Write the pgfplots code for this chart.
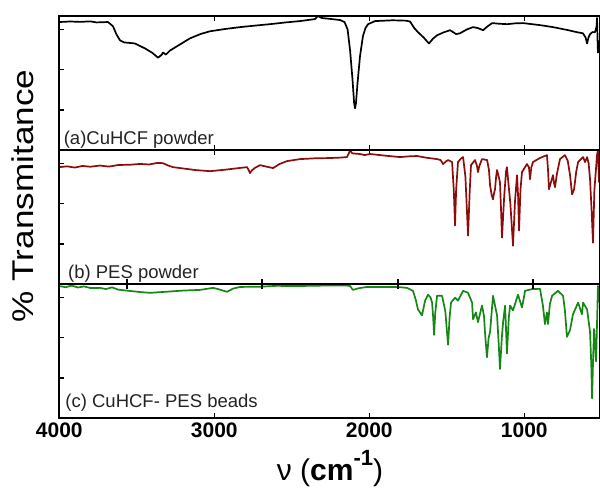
\documentclass[border=0pt]{standalone}
\usepackage{pgfplots}
\pgfplotsset{compat=1.18}
\usepackage{fontspec}
\setmainfont{Liberation Sans}
\definecolor{cred}{RGB}{140,12,12}
\definecolor{cgreen}{RGB}{20,135,20}
\definecolor{ctext}{RGB}{35,35,35}
\pgfplotsset{
  panel/.style={
    scale only axis, width=540.2pt, height=134pt,
    x dir=reverse, xmin=515, xmax=4000, ymin=0, ymax=100,
    xtick={4000,3000,2000,1000}, xticklabels={},
    ytick={30,60,90}, yticklabels={}, ytick pos=left,
    tick align=inside, major tick length=5pt,
    axis line style={line width=1.8pt},
    every tick/.style={black, line width=1.6pt},
    clip=true,
  },
  spec/.style={line width=1.7pt, line join=round},
}
\begin{document}
\begin{tikzpicture}
\useasboundingbox (0,0) rectangle (600pt,490pt);
% panel (a)
\begin{axis}[panel, at={(59.3pt,474pt)}, anchor=north west, xtick pos=both]
\addplot[spec, black] coordinates {
(4000,95.5)(3930,95.9)(3866,95.6)(3800,96.0)(3760,95.2)(3686,95.5)(3654,92.4)(3630,86)(3608,81.8)(3582,80.3)(3512,79.5)(3447,75.8)(3400,72.5)(3363,68.9)(3340,71)(3331,72.7)(3312,71.2)(3286,74.2)(3221,78.8)(3157,83.3)(3090,86.5)(3028,88.6)(2930,90.3)(2834,91.7)(2740,92.8)(2641,93.9)(2540,95.2)(2447,96.2)(2350,97.7)(2332,100)(2306,98.5)(2250,97.8)(2189,97)(2160,95.5)(2140,90)(2124,74.2)(2108,52)(2098,35)(2092,31.1)(2086,35)(2076,50)(2060,70)(2041,85)(2025,91)(2008,93.9)(1963,96.2)(1850,96.8)(1760,96.5)(1737,95.8)(1710,91)(1686,87.9)(1650,84)(1615,79.5)(1590,83)(1563,85.6)(1520,87.8)(1479,89.4)(1440,86.5)(1415,87.1)(1370,90)(1331,91.7)(1300,91)(1266,89.4)(1240,92)(1208,94.7)(1160,94.2)(1111,93.9)(1060,94.5)(1008,94.7)(900,93.2)(815,91.7)(720,89.5)(660,87.9)(622,87.1)(605,84)(595,79.5)(586,84)(576,86.4)(560,88)(544,87.9)(534,92)(531,98.5)(527,80)(525,72.7)(520,78)(518,81.8)
};
\node[anchor=base west, font=\fontsize{18.5}{20}\selectfont, text=ctext, inner sep=0pt] at (rel axis cs:0.008,0.04) {(a)CuHCF powder};
\end{axis}
% panel (b)
\begin{axis}[panel, at={(59.3pt,340pt)}, anchor=north west, xtick pos=right]
\addplot[spec, cred] coordinates {
(4000,87.2)(3950,87.8)(3900,86.9)(3850,88.1)(3800,87.5)(3737,88.4)(3680,87.6)(3620,88.8)(3544,89.0)(3480,89.6)(3420,89.2)(3370,90.3)(3331,90.2)(3300,88.5)(3267,87.2)(3200,86.2)(3120,85.0)(3028,84.2)(2930,85.3)(2850,86.4)(2789,87.2)(2778,85)(2770,82.7)(2760,84.5)(2740,86.5)(2705,88.7)(2660,87.5)(2621,86.5)(2580,89.5)(2531,91.7)(2447,93.2)(2350,93.8)(2253,94)(2190,94.3)(2144,94.7)(2130,98)(2124,100)(2110,97.5)(2060,97)(2030,96.2)(1995,97)(1900,95.8)(1802,94.7)(1740,95.3)(1692,95.5)(1630,94.2)(1563,93.2)(1540,92.5)(1524,89.5)(1505,91.5)(1492,92.5)(1475,91.5)(1466,91)(1455,70)(1447,43.6)(1440,70)(1428,91)(1410,93.5)(1395,94.7)(1380,80)(1363,36.1)(1352,70)(1344,88.7)(1318,92.5)(1305,88)(1299,83.5)(1290,88)(1273,93.2)(1240,92.5)(1228,85)(1221,73.7)(1210,66)(1202,63.2)(1195,68)(1189,70.7)(1182,80)(1176,85)(1165,80)(1157,75.9)(1150,55)(1144,34.6)(1130,65)(1118,84)(1112,87.2)(1105,78.2)(1090,60)(1073,28.6)(1060,62)(1047,81.2)(1040,65)(1034,39.8)(1025,70)(1015,83.5)(983,89.5)(970,87)(963,78.2)(955,87)(944,91)(900,94)(854,96.2)(847,85)(841,70.7)(828,76)(815,81.2)(808,75)(802,72.2)(790,82)(770,93.2)(738,96.2)(720,92)(705,81.2)(692,66.9)(679,70.7)(665,84)(653,91)(621,94.7)(608,91)(595,94.7)(585,90)(576,78.2)(566,55)(557,30.8)(548,70)(531,96.2)(525,100)(518,75.9)
};
\node[anchor=base west, font=\fontsize{18.5}{20}\selectfont, text=ctext, inner sep=0pt] at (rel axis cs:0.016,0.038) {(b) PES powder};
\end{axis}
% offset ticks on lower edge of (b)
\begin{axis}[panel, at={(59.3pt,340pt)}, anchor=north west, xtick={3563,2693,1816,945}, xtick pos=left, ytick=\empty]
\end{axis}
% panel (c)
\begin{axis}[panel, at={(59.3pt,206pt)}, anchor=north west, xtick pos=left,
  xticklabels={4000,3000,2000,1000},
  xticklabel style={font=\fontsize{21}{22}\bfseries\selectfont, yshift=-1pt},
  /pgf/number format/assume math mode=true]
\addplot[spec, cgreen] coordinates {
(4000,98.5)(3960,97.6)(3920,98.8)(3880,97.4)(3840,98.2)(3800,97.0)(3737,97.1)(3700,96.2)(3660,97.5)(3620,95.8)(3560,95.0)(3480,94.0)(3415,93.4)(3300,94.3)(3200,95.1)(3092,95.6)(3008,97.1)(2970,96.0)(2918,94.2)(2880,96.5)(2834,97.8)(2700,98.0)(2600,98.6)(2447,98.5)(2300,98.8)(2150,98.9)(2124,98.5)(2106,95.6)(2070,96.8)(2015,97.8)(1900,97.8)(1821,97.8)(1757,97.1)(1718,94.9)(1700,88)(1686,81.0)(1660,76.6)(1640,87.6)(1621,92)(1605,90)(1595,86.1)(1588,75)(1582,62.0)(1575,78)(1563,91.2)(1531,91.2)(1510,80)(1492,54.7)(1482,75)(1473,86.1)(1447,89.8)(1428,87.6)(1395,94.9)(1363,93.4)(1337,86.1)(1331,73.7)(1312,78.8)(1299,71.5)(1273,83.9)(1260,76)(1254,64.2)(1241,45.3)(1230,60)(1221,64.2)(1202,91.2)(1176,76.6)(1165,55)(1157,36.5)(1145,60)(1137,71.5)(1124,83.9)(1112,48.2)(1100,75)(1092,83.9)(1073,80.3)(1041,92)(1015,82.5)(995,94.9)(950,96.2)(899,96.4)(880,83.9)(867,70.1)(854,78.8)(847,70.1)(835,85)(821,91.2)(783,94.9)(750,91.2)(738,80)(725,60.6)(705,65.7)(686,77.4)(653,86.1)(628,77.4)(621,86.1)(595,81.0)(576,64.2)(568,40)(563,14.6)(556,45)(550,66.4)(537,42.3)(525,98.5)(518,86.1)
};
\node[anchor=base west, font=\fontsize{18.5}{20}\selectfont, text=ctext, inner sep=0pt] at (rel axis cs:0.011,0.08) {(c) CuHCF- PES beads};
\end{axis}
% offset ticks on upper edge of (c)
\begin{axis}[panel, at={(59.3pt,206pt)}, anchor=north west, xtick={3563,2693,1816,945}, xtick pos=right, ytick=\empty]
\end{axis}
% axis titles
\node[rotate=90, anchor=center, inner sep=0pt] at (23pt,294pt) {\scalebox{1.17}[1]{\fontsize{30}{32}\selectfont \% Transmitance}};
\node[anchor=base, inner sep=0pt] at (330pt,9pt) {\fontsize{30}{32}\selectfont ν (\textbf{cm\raisebox{0.5em}{\fontsize{22}{24}\selectfont -1}})};
\end{tikzpicture}
\end{document}
